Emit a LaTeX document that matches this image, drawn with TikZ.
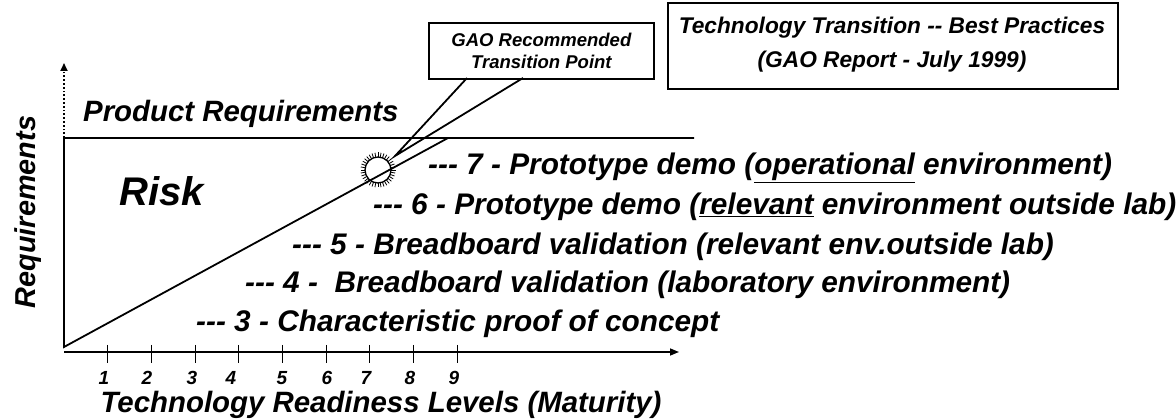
\documentclass[tikz,border=0pt]{standalone}
\usepackage{fontspec}
\setmainfont{Liberation Sans}
\usetikzlibrary{arrows.meta,calc}
\newcommand{\tdash}{\mbox{-}\mbox{-}\mbox{-}}
\tikzset{
  lbl/.style={inner sep=0pt, font=\bfseries\itshape},
  item/.style={lbl, anchor=base west, font=\fontsize{29.8}{30}\selectfont\bfseries\itshape},
  ln/.style={line width=1.8pt},
  tick/.style={line width=1pt},
  ticklbl/.style={lbl, anchor=base, font=\fontsize{19}{20}\selectfont\bfseries\itshape},
  boxed/.style={draw, line width=1.8pt, inner sep=0pt}
}
\begin{document}
\begin{tikzpicture}[x=1pt,y=-1pt]
\useasboundingbox (0,0) rectangle (1176,419);
% axes corners
\coordinate (O) at (64,347);
\coordinate (TL) at (64,138);
\coordinate (TR) at (694,138);
\coordinate (YT) at (64,63);
\coordinate (XO) at (64,352);
\coordinate (XT) at (679,352);
\coordinate (DE) at (448,138);
% frame
\draw[ln] (TR) -- (TL) -- (O) -- (DE);
\draw[line width=1.8pt, dotted, -{Triangle[length=8pt,width=7pt]}] (TL) -- (YT);
\draw[line width=1.5pt, -{Triangle[length=9pt,width=7pt]}] (XO) -- (XT);
\foreach \k/\lx in {1/104,2/147,3/192,4/231,5/282,6/327,7/366,8/410,9/454}{
  \draw[tick] ({64+43.7*\k},345) -- ({64+43.7*\k},363);
  \node[ticklbl] (t\k) at (\lx,385) {\k};
}
\node[lbl, anchor=base, font=\fontsize{29.4}{30}\selectfont\bfseries\itshape] (xl) at (381,413) {Technology Readiness Levels (Maturity)};
\node[lbl, rotate=90, anchor=base, font=\fontsize{28.8}{30}\selectfont\bfseries\itshape] (yl) at (35,212) {Requirements};
\node[lbl, anchor=base west, font=\fontsize{29.4}{30}\selectfont\bfseries\itshape] (pr) at (83,122) {Product Requirements};
\node[lbl, anchor=base west, font=\fontsize{40}{42}\selectfont\bfseries\itshape] (risk) at (119,206) {Risk};
% items
\node[item] (i7) at (428,175) {\tdash{} 7 - Prototype demo (\underline{operational} environment)};
\node[item] (i6) at (373,215) {\tdash{} 6 - Prototype demo (\underline{relevant} environment outside lab)};
\node[item] (i5) at (292,255) {\tdash{} 5 - Breadboard validation (relevant env.outside lab)};
\node[item] (i4) at (245,293) {\tdash{} 4 -~ Breadboard validation (laboratory environment)};
\node[item] (i3) at (196,332) {\tdash{} 3 - Characteristic proof of concept};
% spiky transition point
\coordinate (P) at (378,170);
\draw[line width=1.3pt] (P) circle (13);
\foreach \a in {0,10,...,350}{
  \draw[line width=0.8pt] ($(P)+(\a:13)$) -- ($(P)+(\a:17.5)$);
}
% GAO callout
\node[boxed, minimum width=225pt, minimum height=56pt, anchor=north west] (gao) at (428,22) {};
\node[lbl, align=center, font=\fontsize{18.5}{22}\selectfont\bfseries\itshape] (gaot) at (gao.center) {GAO Recommended\\Transition Point};
\coordinate (tip) at (395,156);
\draw[ln] (467,78) -- (tip) -- (523,78);
% title box
\node[boxed, line width=2.4pt, minimum width=450pt, minimum height=86pt, anchor=north west] (tb) at (667,2) {};
\node[lbl, align=center, font=\fontsize{22.7}{34}\selectfont\bfseries\itshape] (tbt) at (892,45) {Technology Transition \mbox{-}\mbox{-} Best Practices\\(GAO Report - July 1999)};
\end{tikzpicture}
\end{document}
